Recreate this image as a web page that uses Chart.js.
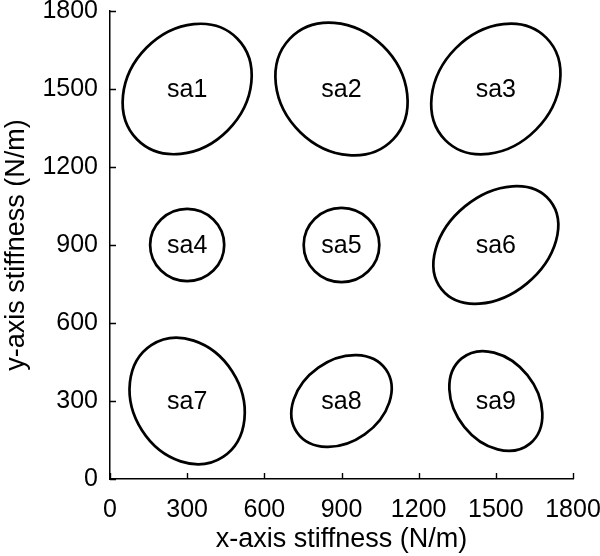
<!DOCTYPE html>
<html lang="en">
<head>
  <meta charset="UTF-8" />
  <title>Stiffness regions</title>
  <style>
    html, body { margin: 0; padding: 0; background: #fff; }
    #wrap { width: 600px; height: 556px; }
  </style>
</head>
<body>
  <div id="wrap"><canvas id="stiffChart" width="600" height="556"></canvas></div>

  <script src="https://cdn.jsdelivr.net/npm/chart.js"></script>
  <script>
    // regions (N/m)
    const names = ['sa1', 'sa2', 'sa3', 'sa4', 'sa5', 'sa6', 'sa7', 'sa8', 'sa9'];
    const centerX = [300, 900, 1500, 300, 900, 1500, 300, 900, 1500];
    const centerY = [1500, 1500, 1500, 900, 900, 900, 300, 300, 300];
    const radiusMajor = [275, 279, 278, 144, 147, 271, 256, 211, 211];
    const radiusMinor = [224, 231, 221, 139, 143, 191, 209, 157, 158];
    const tiltDeg = [45, -44, 45, 0, 0, 39, -57, 35, -51];

    const tickValues = [0, 300, 600, 900, 1200, 1500, 1800];

    const font = "'Liberation Sans', Arial, sans-serif";

    // ellipses + labels, positioned through the chart scales
    const regionPlugin = {
      id: 'regions',
      afterDatasetsDraw(chart) {
        const ctx = chart.ctx;
        const xs = chart.scales.x, ys = chart.scales.y;
        const sx = xs.getPixelForValue(1) - xs.getPixelForValue(0);
        const sy = ys.getPixelForValue(0) - ys.getPixelForValue(1);

        names.forEach((name, i) => {
          const px = xs.getPixelForValue(centerX[i]);
          const py = ys.getPixelForValue(centerY[i]);

          ctx.save();
          ctx.translate(px, py);
          ctx.scale(sx, -sy);
          ctx.rotate(tiltDeg[i] * Math.PI / 180);
          ctx.beginPath();
          ctx.ellipse(0, 0, radiusMajor[i], radiusMinor[i], 0, 0, Math.PI * 2);
          ctx.restore();

          ctx.save();
          ctx.lineWidth = 2.7;
          ctx.strokeStyle = '#000';
          ctx.stroke();
          ctx.fillStyle = '#000';
          ctx.font = '25px ' + font;
          ctx.textAlign = 'center';
          ctx.textBaseline = 'middle';
          ctx.fillText(name, px, py + 1);
          ctx.restore();
        });
      },
      // tick marks point inward
      afterDraw(chart) {
        const ctx = chart.ctx;
        const xs = chart.scales.x, ys = chart.scales.y;
        const area = chart.chartArea;
        ctx.save();
        ctx.strokeStyle = '#000';
        ctx.lineWidth = 1.4;
        ctx.beginPath();
        tickValues.forEach(v => {
          const x = Math.round(xs.getPixelForValue(v)) + 0.5;
          ctx.moveTo(x, area.bottom);
          ctx.lineTo(x, area.bottom - 6);
          const y = Math.round(ys.getPixelForValue(v)) + 0.5;
          ctx.moveTo(area.left, y);
          ctx.lineTo(area.left + 6, y);
        });
        ctx.stroke();
        ctx.restore();
      }
    };

    const ctx = document.getElementById('stiffChart').getContext('2d');
    new Chart(ctx, {
      type: 'scatter',
      data: {
        datasets: [{
          label: 'regions',
          data: centerX.map((x, i) => ({ x: x, y: centerY[i] })),
          pointRadius: 0
        }]
      },
      options: {
        responsive: false,
        animation: false,
        layout: { padding: { left: 0, right: 27, top: 11, bottom: 0 } },
        plugins: {
          legend: { display: false },
          tooltip: { enabled: false }
        },
        scales: {
          x: {
            type: 'linear',
            min: 0,
            max: 1800,
            afterFit: s => {
              s.height = 77;
              s.paddingLeft = 0;
              s.paddingRight = 0;
            },
            grid: { display: false, drawTicks: false },
            border: { display: true, color: '#000', width: 1.5 },
            ticks: {
              stepSize: 300,
              padding: 16,
              color: '#000',
              font: { family: font, size: 25 },
              callback: v => String(v)
            },
            title: {
              display: true,
              text: 'x-axis stiffness (N/m)',
              color: '#000',
              padding: 0,
              font: { family: font, size: 27 }
            }
          },
          y: {
            type: 'linear',
            min: 0,
            max: 1800,
            afterFit: s => {
              s.width = 110;
              s.paddingTop = 0;
              s.paddingBottom = 0;
            },
            grid: { display: false, drawTicks: false },
            border: { display: true, color: '#000', width: 1.5 },
            ticks: {
              stepSize: 300,
              padding: 12,
              color: '#000',
              font: { family: font, size: 25 },
              callback: v => String(v)
            },
            title: {
              display: true,
              text: 'y-axis stiffness (N/m)',
              color: '#000',
              padding: 0,
              font: { family: font, size: 27 }
            }
          }
        }
      },
      plugins: [regionPlugin]
    });
  </script>
</body>
</html>
